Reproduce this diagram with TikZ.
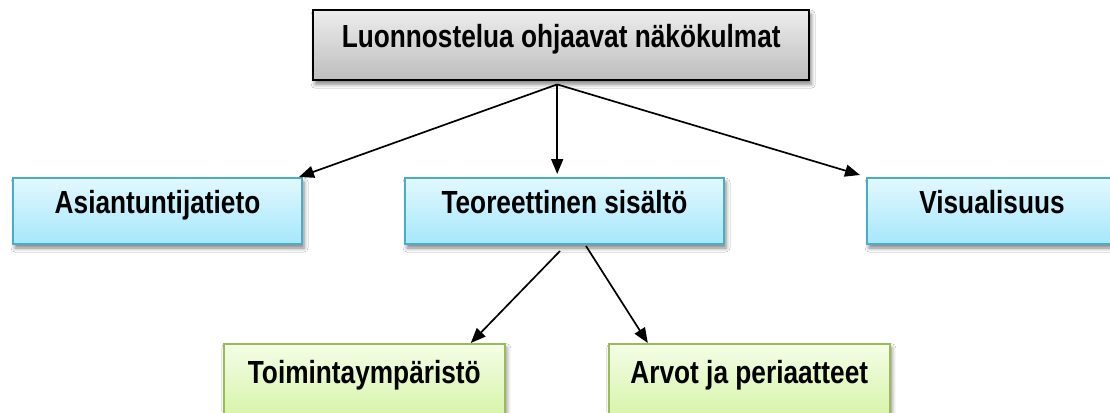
\documentclass[tikz,border=0pt]{standalone}
\usepackage{fontspec}
\setmainfont{Liberation Sans}[FakeStretch=0.82]
\usetikzlibrary{arrows.meta,shadows.blur,calc}
\definecolor{greytop}{HTML}{EDEDED}
\definecolor{greybot}{HTML}{BDBDBD}
\definecolor{bluetop}{HTML}{E2F8FE}
\definecolor{bluebot}{HTML}{A6E7FB}
\definecolor{blueline}{HTML}{4BACC6}
\definecolor{greentop}{HTML}{F4FDE6}
\definecolor{greenbot}{HTML}{D4F3A4}
\definecolor{greenline}{HTML}{9BBB59}
\begin{document}
\begin{tikzpicture}[x=1pt,y=1pt,
  box/.style={rectangle, anchor=north west, inner sep=0pt,
    font=\bfseries\fontsize{32}{38}\selectfont, text=black,
    text height=0.72em, text depth=0.2em,
    blur shadow={shadow xshift=2pt, shadow yshift=-4pt, shadow blur radius=4pt, shadow opacity=50}},
  greybox/.style={box, draw=black, line width=2.4pt, top color=greytop, bottom color=greybot,
    minimum width=496pt, minimum height=70pt},
  bluebox/.style={box, draw=blueline, line width=2pt, top color=bluetop, bottom color=bluebot,
    minimum height=66pt},
  greenbox/.style={box, draw=greenline, line width=1.6pt, top color=greentop, bottom color=greenbot,
    minimum width=281pt, minimum height=80pt, text height=12pt, text depth=12pt},
  arr/.style={-{Triangle[length=15pt,width=12pt]}, line width=1.7pt, black}]
\useasboundingbox (0,0) rectangle (1110,-412);
\clip (0,0) rectangle (1110,-412);
\fill[white] (0,0) rectangle (1110,-412);

\node[greybox] (top) at (312,-9) {Luonnostelua ohjaavat näkökulmat};
\node[bluebox, minimum width=289pt] (asia) at (12,-177) {Asiantuntijatieto};
\node[bluebox, minimum width=319pt] (teor) at (404,-177) {Teoreettinen sisältö};
\node[bluebox, minimum width=250pt] (vis) at (866,-177) {Visualisuus};
\node[greenbox] (toim) at (223,-343) {Toimintaympäristö};
\node[greenbox] (arvo) at (608,-343) {Arvot ja periaatteet};

\coordinate (hub) at ($(top.south)+(-4,-3)$);
\coordinate (a1) at ($(asia.north east)+(-4,0)$);
\coordinate (v1) at ($(vis.north west)+(-6,2)$);
\coordinate (t0) at ($(teor.south)+(-4.5,-6)$);
\coordinate (t2) at ($(teor.south)+(21.5,-1)$);
\coordinate (e1) at ($(toim.north)+(106.5,0)$);
\coordinate (e2) at ($(arvo.north)+(-101.5,0)$);

\draw[arr] (hub) -- (a1);
\draw[arr, shorten >=3pt] (hub) -- (hub |- teor.north);
\draw[arr] (hub) -- (v1);
\draw[arr] (t0) -- (e1);
\draw[arr] (t2) -- (e2);
\end{tikzpicture}
\end{document}
